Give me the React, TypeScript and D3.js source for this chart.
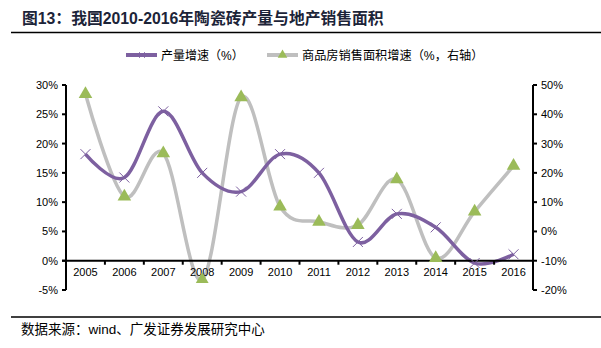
import React from "react";
import * as d3 from "d3";

const years = ["2005","2006","2007","2008","2009","2010","2011","2012","2013","2014","2015","2016"];
const outputGrowth = [18.2, 14.2, 25.5, 15.0, 11.8, 18.2, 15.0, 3.2, 8.0, 5.7, -0.4, 1.1];
const salesGrowth = [46.9, 11.9, 26.7, -16.5, 45.8, 8.5, 3.3, 2.2, 17.8, -9.1, 6.8, 22.4];
const leftTicks = [-5, 0, 5, 10, 15, 20, 25, 30];
const rightTicks = [-20, -10, 0, 10, 20, 30, 40, 50];

const W = 601, H = 348;
const plotL = 66, plotR = 533, plotT = 85, plotB = 290;
const purple = "#7d60a0";
const gray = "#bfbfbf";
const green = "#9bbb59";
const latin = "'Liberation Sans', Arial, sans-serif";
const cjk = "'Liberation Sans', 'Noto Sans CJK SC', sans-serif";

export default function App() {
  const x = d3.scaleBand<string>().domain(years).range([plotL, plotR]);
  const yL = d3.scaleLinear().domain([-5, 30]).range([plotB, plotT]);
  const yR = d3.scaleLinear().domain([-20, 50]).range([plotB, plotT]);
  const cx = (y: string) => (x(y) as number) + x.bandwidth() / 2;
  const curve = d3.curveCardinal.tension(0);
  const lineL = d3.line<number>().x((_, i) => cx(years[i])).y((d) => yL(d)).curve(curve);
  const lineR = d3.line<number>().x((_, i) => cx(years[i])).y((d) => yR(d)).curve(curve);
  const axisY = yL(0);
  const tri = d3.symbol().type(d3.symbolTriangle).size(80)();

  return (
    <svg width={W} height={H} style={{ position: "absolute", left: 0, top: 0, background: "#fff" }}>
      <defs>
        <clipPath id="clipR">
          <rect x={plotL} y={0} width={plotR - plotL} height={283} />
        </clipPath>
      </defs>
      <text x={22} y={24} fontFamily={cjk} fontWeight="bold" fontSize={15.8} fill="#1c2438">图13：我国2010-2016年陶瓷砖产量与地产销售面积</text>
      <line x1={11} x2={601} y1={32.5} y2={32.5} stroke="#000" strokeWidth={1.5} />

      {/* legend */}
      <line x1={126} x2={157} y1={55} y2={55} stroke={purple} strokeWidth={4} />
      <path d="M139,52 L145,58 M145,52 L139,58" stroke={purple} strokeWidth={0.8} />
      <text x={161} y={59.5} fontFamily={cjk} fontSize={12} fill="#000">产量增速（%）</text>
      <line x1={267} x2={298} y1={55} y2={55} stroke={gray} strokeWidth={4} />
      <path d={d3.symbol().type(d3.symbolTriangle).size(40)() as string} transform="translate(282.5,55)" fill={green} />
      <text x={302} y={59.5} fontFamily={cjk} fontSize={12.2} fill="#000">商品房销售面积增速（%，右轴）</text>

      {/* axes */}
      <line x1={plotL} x2={plotL} y1={plotT} y2={plotB} stroke="#000" strokeWidth={2} />
      {leftTicks.map((t) => (
        <g key={"l" + t}>
          <line x1={plotL - 4} x2={plotL} y1={yL(t)} y2={yL(t)} stroke="#000" strokeWidth={2} />
          <text x={plotL - 8} y={yL(t) + 4} textAnchor="end" fontFamily={latin} fontSize={11} fill="#000">{t}%</text>
        </g>
      ))}
      <line x1={plotR} x2={plotR} y1={plotT} y2={plotB} stroke="#000" strokeWidth={2} />
      {rightTicks.map((t) => (
        <g key={"r" + t}>
          <line x1={plotR} x2={plotR + 4} y1={yR(t)} y2={yR(t)} stroke="#000" strokeWidth={2} />
          <text x={plotR + 8} y={yR(t) + 4} textAnchor="start" fontFamily={latin} fontSize={11} fill="#000">{t}%</text>
        </g>
      ))}

      {/* lines */}
      <g clipPath="url(#clipR)">
        <path d={lineR(salesGrowth) as string} fill="none" stroke={gray} strokeWidth={3.5} />
      </g>
      <path d={lineL(outputGrowth) as string} fill="none" stroke={purple} strokeWidth={3.5} />

      {/* x axis */}
      <line x1={plotL - 4} x2={plotR} y1={axisY} y2={axisY} stroke="#000" strokeWidth={2} />
      {years.map((y, i) => (
        <g key={y}>
          {i > 0 && <line x1={x(y) as number} x2={x(y) as number} y1={axisY} y2={axisY + 4} stroke="#000" strokeWidth={2} />}
          <text x={cx(y)} y={axisY + 15} textAnchor="middle" fontFamily={latin} fontSize={11} fill="#000">{y}</text>
        </g>
      ))}

      {/* markers */}
      {outputGrowth.map((v, i) => (
        <path key={"m" + i} d={`M${cx(years[i]) - 5},${yL(v) - 5} L${cx(years[i]) + 5},${yL(v) + 5} M${cx(years[i]) + 5},${yL(v) - 5} L${cx(years[i]) - 5},${yL(v) + 5}`} stroke={purple} strokeWidth={1} />
      ))}
      <g clipPath="url(#clipR)">
        {salesGrowth.map((v, i) => (
          <path key={"t" + i} d={tri as string} transform={`translate(${cx(years[i])},${yR(v)})`} fill={green} />
        ))}
      </g>

      <line x1={11} x2={601} y1={317} y2={317} stroke="#000" strokeWidth={1.5} />
      <text x={21} y={334} fontFamily={cjk} fontSize={13.5} fill="#000">数据来源：wind、广发证券发展研究中心</text>
    </svg>
  );
}
